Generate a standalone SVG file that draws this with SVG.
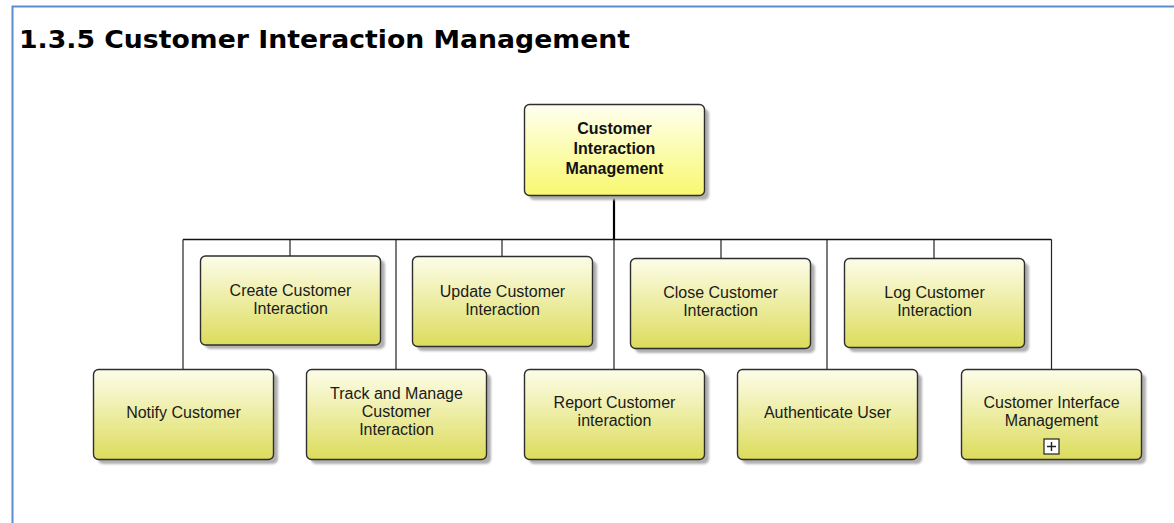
<svg xmlns="http://www.w3.org/2000/svg" width="1174" height="523" viewBox="0 0 1174 523">
<defs>
<linearGradient id="gRoot" x1="0" y1="0" x2="0" y2="1">
<stop offset="0" stop-color="#fffff0"/>
<stop offset="1" stop-color="#f8f870"/>
</linearGradient>
<linearGradient id="gChild" x1="0" y1="0" x2="0" y2="1">
<stop offset="0" stop-color="#fdfdea"/>
<stop offset="1" stop-color="#dcdc5c"/>
</linearGradient>
<filter id="blur" x="-10%" y="-10%" width="130%" height="130%">
<feGaussianBlur stdDeviation="1.2"/>
</filter>
</defs>
<style>
.frame{fill:none;stroke:#5a8dd0;stroke-width:2}
.title{font-family:"DejaVu Sans",Verdana,sans-serif;font-weight:bold;font-size:25px;fill:#000}
.shadow{fill:#b0b0b0;filter:url(#blur)}
.box{fill:url(#gChild);stroke:#2e2e2e;stroke-width:1.4}
.rootbox{fill:url(#gRoot);stroke:#2e2e2e;stroke-width:1.4}
.lbl{font-family:"Liberation Sans",Arial,sans-serif;font-size:16px;fill:#1a1a1a;text-anchor:middle}
.rlbl{font-family:"Liberation Sans",Arial,sans-serif;font-size:16px;font-weight:bold;fill:#111;text-anchor:middle}
.wire{fill:none;stroke:#222;stroke-width:1.2}
.bus{fill:none;stroke:#111;stroke-width:1.6}
.stem{fill:none;stroke:#000;stroke-width:2.2}
</style>
<rect x="0" y="0" width="1174" height="523" fill="#fff"/>
<path class="frame" d="M12.5 524 V6.5 H1175"/>
<text class="title" x="19" y="48" textLength="611" lengthAdjust="spacingAndGlyphs">1.3.5 Customer Interaction Management</text>
<g id="connectors">
<path class="stem" d="M614 195 V240"/>
<path class="bus" d="M183 239.5 H1051.5"/>
<path class="wire" d="M183 239.5 V369"/>
<path class="wire" d="M290 239.5 V256"/>
<path class="wire" d="M396 239.5 V369"/>
<path class="wire" d="M502 239.5 V256"/>
<path class="wire" d="M614 239.5 V369"/>
<path class="wire" d="M721 239.5 V258"/>
<path class="wire" d="M827 239.5 V369"/>
<path class="wire" d="M934 239.5 V258"/>
<path class="wire" d="M1051.5 239.5 V369"/>
</g>
<g id="node-root">
<rect class="shadow" x="529" y="109" width="180" height="91" rx="5"/>
<rect class="rootbox" x="524.5" y="104.5" width="180" height="91" rx="5"/>
<text class="rlbl" x="614.5" y="134">Customer</text>
<text class="rlbl" x="614.5" y="154">Interaction</text>
<text class="rlbl" x="614.5" y="174">Management</text>
</g>
<g id="node-create">
<rect class="shadow" x="205" y="260" width="180" height="89" rx="5"/>
<rect class="box" x="200.5" y="256" width="180" height="89" rx="5"/>
<text class="lbl" x="290.5" y="296">Create Customer</text>
<text class="lbl" x="290.5" y="314">Interaction</text>
</g>
<g id="node-update">
<rect class="shadow" x="417" y="261" width="180" height="90" rx="5"/>
<rect class="box" x="412.5" y="256.5" width="180" height="90" rx="5"/>
<text class="lbl" x="502.5" y="297">Update Customer</text>
<text class="lbl" x="502.5" y="315">Interaction</text>
</g>
<g id="node-close">
<rect class="shadow" x="635" y="263" width="180" height="90" rx="5"/>
<rect class="box" x="630.5" y="258.5" width="180" height="90" rx="5"/>
<text class="lbl" x="720.5" y="298">Close Customer</text>
<text class="lbl" x="720.5" y="316">Interaction</text>
</g>
<g id="node-log">
<rect class="shadow" x="849" y="263" width="180" height="89" rx="5"/>
<rect class="box" x="844.5" y="258.5" width="180" height="89" rx="5"/>
<text class="lbl" x="934.5" y="298">Log Customer</text>
<text class="lbl" x="934.5" y="316">Interaction</text>
</g>
<g id="node-notify">
<rect class="shadow" x="98" y="374" width="180" height="90" rx="5"/>
<rect class="box" x="93.5" y="369.5" width="180" height="90" rx="5"/>
<text class="lbl" x="183.5" y="418">Notify Customer</text>
</g>
<g id="node-track">
<rect class="shadow" x="311" y="374" width="180" height="90" rx="5"/>
<rect class="box" x="306.5" y="369.5" width="180" height="90" rx="5"/>
<text class="lbl" x="396.5" y="399">Track and Manage</text>
<text class="lbl" x="396.5" y="417">Customer</text>
<text class="lbl" x="396.5" y="435">Interaction</text>
</g>
<g id="node-report">
<rect class="shadow" x="529" y="374" width="180" height="90" rx="5"/>
<rect class="box" x="524.5" y="369.5" width="180" height="90" rx="5"/>
<text class="lbl" x="614.5" y="408">Report Customer</text>
<text class="lbl" x="614.5" y="426">interaction</text>
</g>
<g id="node-auth">
<rect class="shadow" x="742" y="374" width="180" height="90" rx="5"/>
<rect class="box" x="737.5" y="369.5" width="180" height="90" rx="5"/>
<text class="lbl" x="827.5" y="418">Authenticate User</text>
</g>
<g id="node-cim">
<rect class="shadow" x="966" y="374" width="180" height="90" rx="5"/>
<rect class="box" x="961.5" y="369.5" width="180" height="90" rx="5"/>
<text class="lbl" x="1051.5" y="408">Customer Interface</text>
<text class="lbl" x="1051.5" y="426">Management</text>
<rect x="1044" y="439" width="15" height="15" fill="#fff" stroke="#222" stroke-width="1.2"/>
<path d="M1047 446.5 H1056 M1051.5 442 V451" stroke="#222" stroke-width="1.4" fill="none"/>
</g>
</svg>
